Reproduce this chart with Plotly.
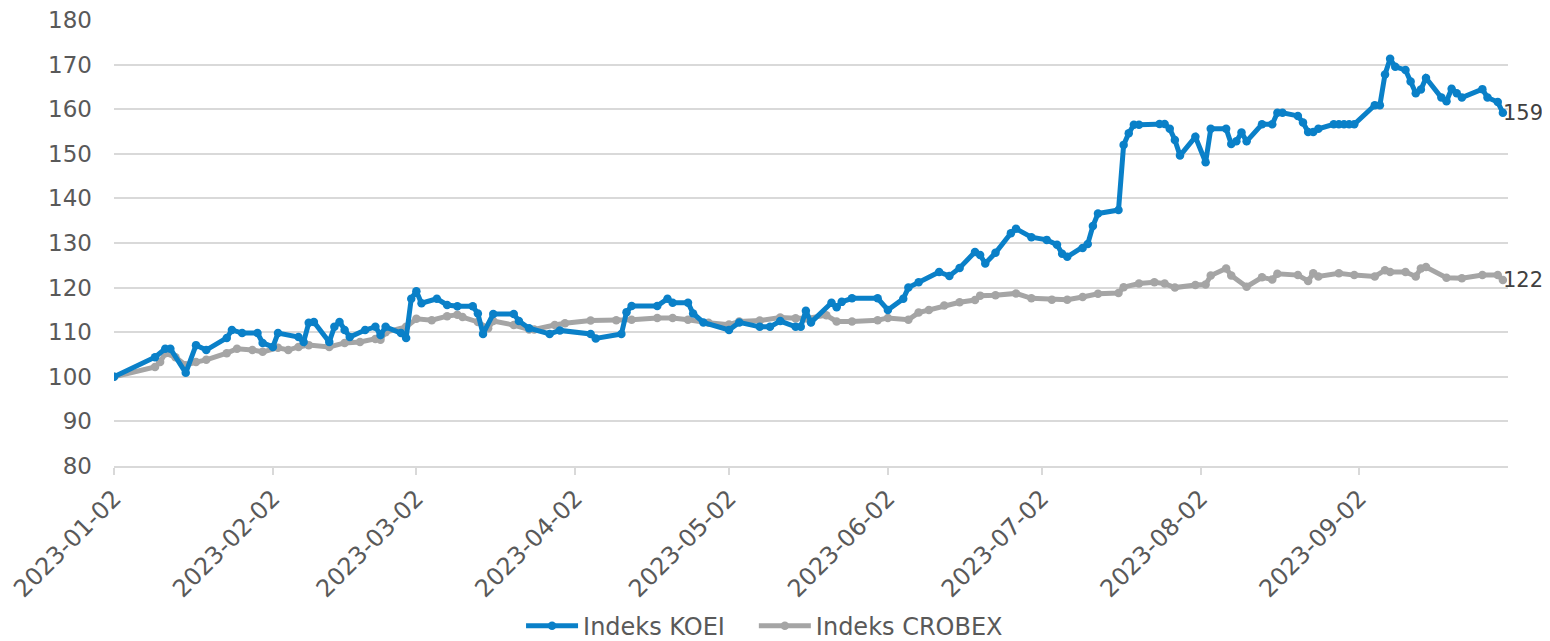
import plotly.graph_objects as go

koei_dates = [
    "2023-01-02", "2023-01-10", "2023-01-12", "2023-01-13", "2023-01-16", "2023-01-18",
    "2023-01-20", "2023-01-24", "2023-01-25", "2023-01-27", "2023-01-30", "2023-01-31",
    "2023-02-02", "2023-02-03", "2023-02-07", "2023-02-08", "2023-02-09", "2023-02-10",
    "2023-02-13", "2023-02-14", "2023-02-15", "2023-02-16", "2023-02-17", "2023-02-20",
    "2023-02-22", "2023-02-23", "2023-02-24", "2023-02-27", "2023-02-28", "2023-03-01",
    "2023-03-02", "2023-03-03", "2023-03-06", "2023-03-08", "2023-03-10", "2023-03-13",
    "2023-03-14", "2023-03-15", "2023-03-17", "2023-03-21", "2023-03-22", "2023-03-24",
    "2023-03-28", "2023-03-30", "2023-04-05", "2023-04-06", "2023-04-11", "2023-04-12",
    "2023-04-13", "2023-04-18", "2023-04-20", "2023-04-21", "2023-04-24", "2023-04-25",
    "2023-04-27", "2023-05-02", "2023-05-04", "2023-05-08", "2023-05-10", "2023-05-12",
    "2023-05-15", "2023-05-16", "2023-05-17", "2023-05-18", "2023-05-22", "2023-05-23",
    "2023-05-24", "2023-05-26", "2023-05-31", "2023-06-02", "2023-06-05", "2023-06-06",
    "2023-06-08", "2023-06-12", "2023-06-14", "2023-06-16", "2023-06-19", "2023-06-20",
    "2023-06-21", "2023-06-23", "2023-06-26", "2023-06-27", "2023-06-30", "2023-07-03",
    "2023-07-05", "2023-07-06", "2023-07-07", "2023-07-10", "2023-07-11", "2023-07-12",
    "2023-07-13", "2023-07-17", "2023-07-18", "2023-07-19", "2023-07-20", "2023-07-21",
    "2023-07-25", "2023-07-26", "2023-07-27", "2023-07-28", "2023-07-29", "2023-08-01",
    "2023-08-03", "2023-08-04", "2023-08-07", "2023-08-08", "2023-08-09", "2023-08-10",
    "2023-08-11", "2023-08-14", "2023-08-16", "2023-08-17", "2023-08-18", "2023-08-21",
    "2023-08-22", "2023-08-23", "2023-08-24", "2023-08-25", "2023-08-28", "2023-08-29",
    "2023-08-30", "2023-08-31", "2023-09-01", "2023-09-05", "2023-09-06", "2023-09-07",
    "2023-09-08", "2023-09-09", "2023-09-11", "2023-09-12", "2023-09-13", "2023-09-14",
    "2023-09-15", "2023-09-18", "2023-09-19", "2023-09-20", "2023-09-21", "2023-09-22",
    "2023-09-26", "2023-09-27", "2023-09-29", "2023-09-30",
]
koei_values = [
    100.0, 104.4, 106.3, 106.3, 100.9, 107.1,
    106.0, 108.7, 110.5, 109.8, 109.8, 107.6,
    106.7, 109.8, 108.9, 107.8, 112.1, 112.3,
    107.8, 111.2, 112.3, 110.5, 108.9, 110.5,
    111.2, 109.4, 111.2, 109.8, 108.7, 117.5,
    119.2, 116.5, 117.5, 116.1, 115.8, 115.8,
    114.2, 109.6, 114.1, 114.1, 112.5, 110.9,
    109.6, 110.4, 109.6, 108.6, 109.6, 114.5,
    115.9, 115.9, 117.5, 116.6, 116.6, 114.2,
    112.2, 110.5, 112.2, 111.2, 111.2, 112.5,
    111.2, 111.2, 114.8, 112.2, 116.6, 115.6,
    116.8, 117.6, 117.6, 115.0, 117.5, 120.0,
    121.2, 123.5, 122.6, 124.4, 128.0, 127.3,
    125.4, 127.8, 132.2, 133.2, 131.3, 130.7,
    129.6, 127.6, 126.9, 128.9, 129.8, 133.8,
    136.6, 137.4, 152.0, 154.6, 156.5, 156.5,
    156.7, 156.7, 155.6, 153.1, 149.6, 153.8,
    148.1, 155.6, 155.6, 152.2, 152.8, 154.8,
    152.8, 156.6, 156.6, 159.2, 159.2, 158.5,
    157.0, 154.9, 154.9, 155.6, 156.6, 156.6,
    156.6, 156.6, 156.6, 160.9, 160.9, 167.8,
    171.3, 169.5, 168.8, 166.2, 163.6, 164.4,
    167.0, 162.6, 161.8, 164.6, 163.6, 162.6,
    164.5, 162.6, 161.6, 159.2,
]

crobex_dates = [
    "2023-01-02", "2023-01-10", "2023-01-11", "2023-01-12", "2023-01-14", "2023-01-16",
    "2023-01-18", "2023-01-20", "2023-01-24", "2023-01-26", "2023-01-29", "2023-01-31",
    "2023-02-03", "2023-02-05", "2023-02-07", "2023-02-09", "2023-02-13", "2023-02-16",
    "2023-02-19", "2023-02-22", "2023-02-23", "2023-02-24", "2023-02-28", "2023-03-02",
    "2023-03-05", "2023-03-08", "2023-03-10", "2023-03-11", "2023-03-14", "2023-03-16",
    "2023-03-17", "2023-03-21", "2023-03-24", "2023-03-25", "2023-03-29", "2023-03-31",
    "2023-04-05", "2023-04-10", "2023-04-13", "2023-04-18", "2023-04-21", "2023-04-24",
    "2023-04-28", "2023-05-02", "2023-05-04", "2023-05-08", "2023-05-12", "2023-05-15",
    "2023-05-17", "2023-05-21", "2023-05-23", "2023-05-26", "2023-05-31", "2023-06-02",
    "2023-06-06", "2023-06-08", "2023-06-10", "2023-06-13", "2023-06-16", "2023-06-19",
    "2023-06-20", "2023-06-23", "2023-06-27", "2023-06-30", "2023-07-04", "2023-07-07",
    "2023-07-10", "2023-07-13", "2023-07-17", "2023-07-18", "2023-07-21", "2023-07-24",
    "2023-07-26", "2023-07-28", "2023-08-01", "2023-08-03", "2023-08-04", "2023-08-07",
    "2023-08-08", "2023-08-11", "2023-08-14", "2023-08-16", "2023-08-17", "2023-08-21",
    "2023-08-23", "2023-08-24", "2023-08-25", "2023-08-29", "2023-09-01", "2023-09-05",
    "2023-09-07", "2023-09-08", "2023-09-11", "2023-09-13", "2023-09-14", "2023-09-15",
    "2023-09-19", "2023-09-22", "2023-09-26", "2023-09-29", "2023-09-30",
]
crobex_values = [
    100.0, 102.2, 103.3, 105.3, 104.4, 102.6,
    103.3, 103.8, 105.3, 106.3, 106.0, 105.6,
    106.5, 106.0, 106.7, 107.1, 106.7, 107.6,
    107.8, 108.5, 108.3, 110.0, 111.2, 113.0,
    112.7, 113.6, 113.9, 113.4, 112.3, 110.9,
    112.5, 111.6, 110.6, 110.6, 111.6, 112.0,
    112.6, 112.7, 112.8, 113.2, 113.2, 112.8,
    112.1, 111.7, 112.4, 112.6, 113.3, 113.1,
    113.1, 113.8, 112.4, 112.4, 112.7, 113.2,
    112.8, 114.4, 115.0, 116.0, 116.7, 117.2,
    118.2, 118.3, 118.7, 117.6, 117.3, 117.3,
    117.9, 118.6, 118.8, 120.1, 120.9, 121.2,
    120.9, 120.0, 120.6, 120.7, 122.7, 124.3,
    122.7, 120.2, 122.3, 121.8, 123.1, 122.8,
    121.5, 123.2, 122.5, 123.2, 122.8, 122.5,
    123.9, 123.5, 123.5, 122.5, 124.3, 124.6,
    122.2, 122.1, 122.8, 122.8, 121.7,
]

series_names = ["Indeks KOEI", "Indeks CROBEX"]
series_colors = ["#0A80C8", "#A5A5A5"]
y_ticks = list(range(80, 181, 10))

FONT = "DejaVu Sans"
fig = go.Figure()
for name, xs, ys, col, leg in [
    (series_names[1], crobex_dates, crobex_values, series_colors[1], "legend2"),
    (series_names[0], koei_dates, koei_values, series_colors[0], "legend"),
]:
    fig.add_trace(go.Scatter(
        x=xs, y=ys, name=name, mode="lines+markers", legend=leg,
        line=dict(color=col, width=5),
        marker=dict(color=col, size=8.5),
    ))
    fig.add_annotation(
        x=xs[-1], y=ys[-1], text=f"{round(ys[-1])}", showarrow=False,
        xanchor="left", yanchor="middle", xshift=-2,
        font=dict(family=FONT, size=21, color="#404040"),
    )

legend_common = dict(
    orientation="h", xanchor="left", y=-0.359, yanchor="middle",
    itemwidth=52, bgcolor="rgba(0,0,0,0)",
    font=dict(family=FONT, size=24, color="#595959"),
)

fig.update_layout(
    width=1542, height=641,
    margin=dict(l=106, r=42, t=12, b=183, autoexpand=False),
    paper_bgcolor="white", plot_bgcolor="white",
    font=dict(family=FONT, size=23, color="#595959"),
    showlegend=True,
    legend=dict(x=0.292, **legend_common),
    legend2=dict(x=0.459, **legend_common),
    xaxis=dict(
        type="date", range=["2023-01-02", "2023-10-01"], automargin=False,
        tick0="2023-01-02", dtick="M1", tickformat="%Y-%m-%d", tickangle=-45,
        tickfont=dict(size=24), ticklabeloverflow="allow",
        showgrid=False, showline=True, linecolor="#D9D9D9", linewidth=1.5,
        ticks="outside", ticklen=7, tickcolor="#D9D9D9", tickwidth=1.5,
        zeroline=False,
    ),
    yaxis=dict(
        range=[80, 180], tickvals=y_ticks, showgrid=True, gridcolor="#D9D9D9",
        gridwidth=1.5, zeroline=False, showline=False, ticks="", automargin=False,
        ticklabelstandoff=21, ticklabeloverflow="allow",
    ),
)

fig.write_html("out.html")
